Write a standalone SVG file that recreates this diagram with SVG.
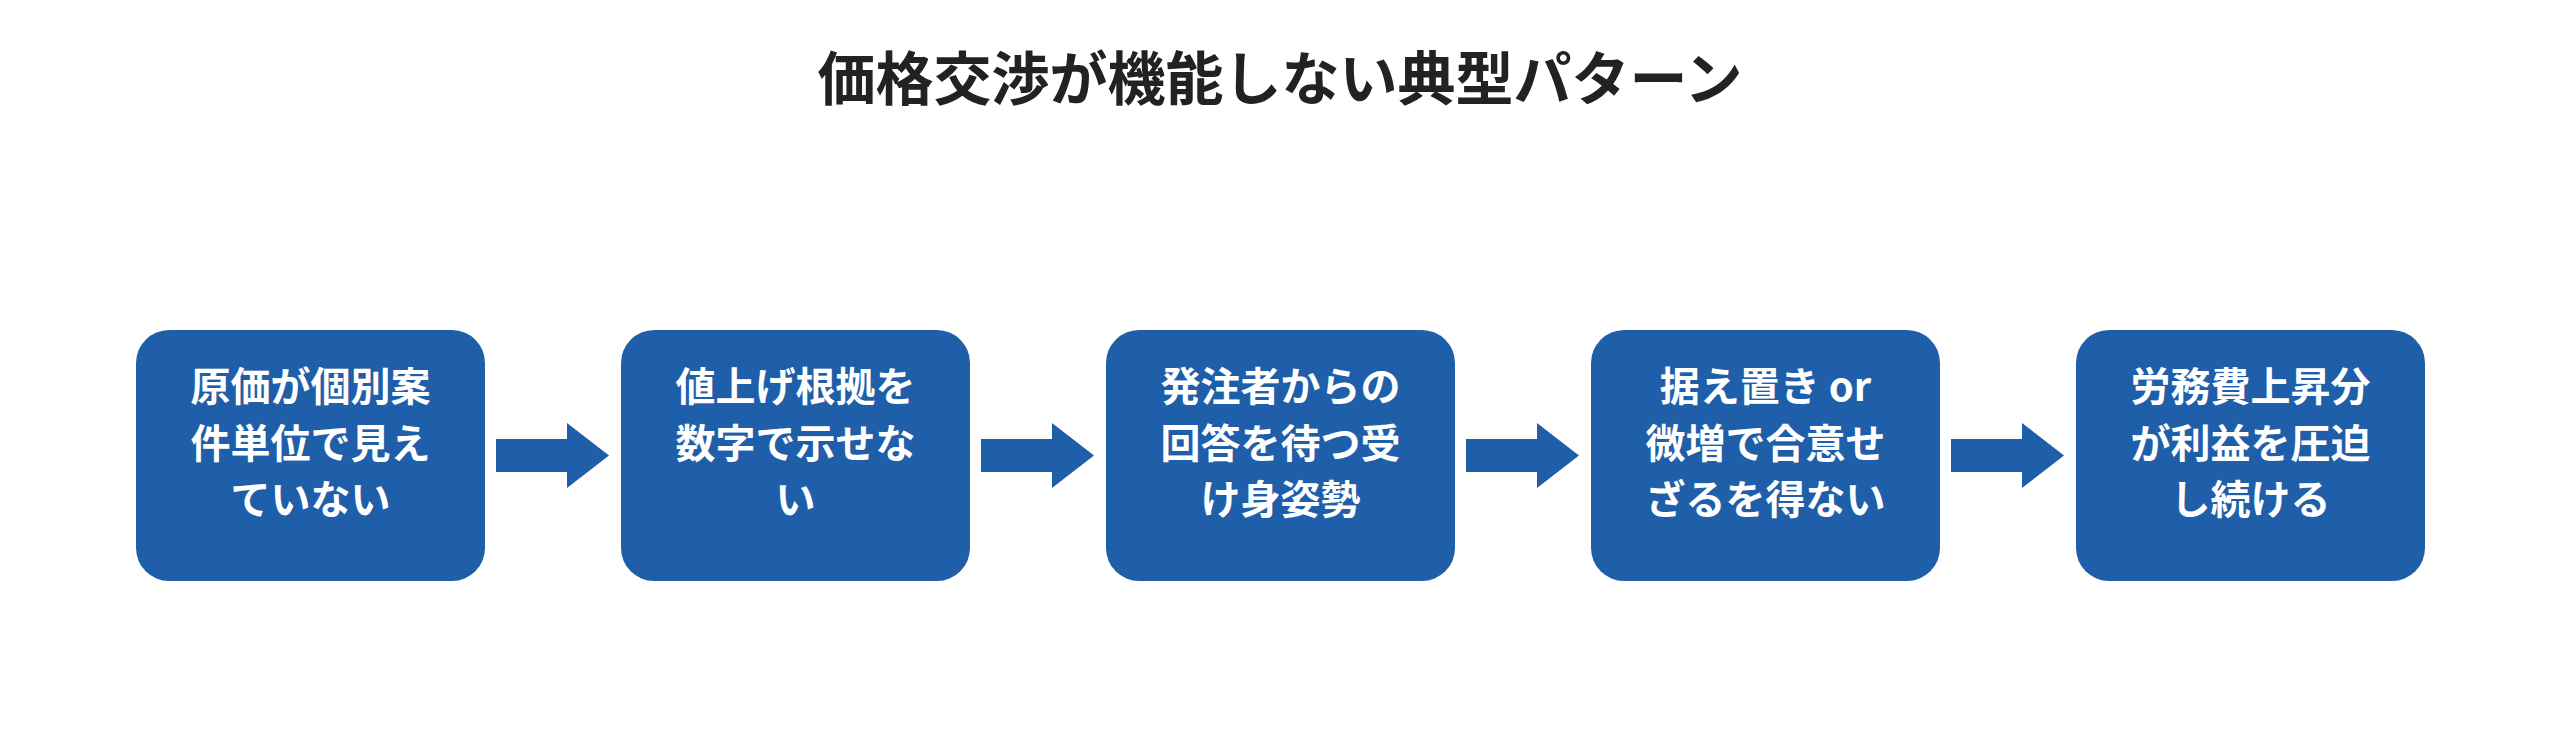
<svg xmlns="http://www.w3.org/2000/svg" width="2560" height="756" viewBox="0 0 2560 756">
<style>
.box{fill:#1f5ea8}
.t{font-family:"Noto Sans CJK JP","Noto Sans",sans-serif;font-weight:bold;fill:#fff;font-size:40px;text-anchor:middle}
.title{font-family:"Noto Sans CJK JP","Noto Sans",sans-serif;font-weight:bold;fill:#222;font-size:58px;text-anchor:middle}
.arr{fill:#1f5ea8}
</style>
<rect width="2560" height="756" fill="#fff"/>
<text class="title" x="1280" y="100">価格交渉が機能しない典型パターン</text>
<g id="n1"><rect class="box" x="136" y="330" width="349" height="251" rx="33"/>
<text class="t" x="310.5" y="401">原価が個別案</text><text class="t" x="310.5" y="458">件単位で見え</text><text class="t" x="310.5" y="514">ていない</text></g>
<g id="n2"><rect class="box" x="621" y="330" width="349" height="251" rx="33"/>
<text class="t" x="795.5" y="401">値上げ根拠を</text><text class="t" x="795.5" y="458">数字で示せな</text><text class="t" x="795.5" y="514">い</text></g>
<g id="n3"><rect class="box" x="1106" y="330" width="349" height="251" rx="33"/>
<text class="t" x="1280.5" y="401">発注者からの</text><text class="t" x="1280.5" y="458">回答を待つ受</text><text class="t" x="1280.5" y="514">け身姿勢</text></g>
<g id="n4"><rect class="box" x="1591" y="330" width="349" height="251" rx="33"/>
<text class="t" x="1765.5" y="401">据え置き or</text><text class="t" x="1765.5" y="458">微増で合意せ</text><text class="t" x="1765.5" y="514">ざるを得ない</text></g>
<g id="n5"><rect class="box" x="2076" y="330" width="349" height="251" rx="33"/>
<text class="t" x="2250.5" y="401">労務費上昇分</text><text class="t" x="2250.5" y="458">が利益を圧迫</text><text class="t" x="2250.5" y="514">し続ける</text></g>
<g id="connectors">
<polygon class="arr" points="496,439 567,439 567,423 609,455.5 567,488 567,472 496,472"/>
<polygon class="arr" points="981,439 1052,439 1052,423 1094,455.5 1052,488 1052,472 981,472"/>
<polygon class="arr" points="1466,439 1537,439 1537,423 1579,455.5 1537,488 1537,472 1466,472"/>
<polygon class="arr" points="1951,439 2022,439 2022,423 2064,455.5 2022,488 2022,472 1951,472"/>
</g>
</svg>
